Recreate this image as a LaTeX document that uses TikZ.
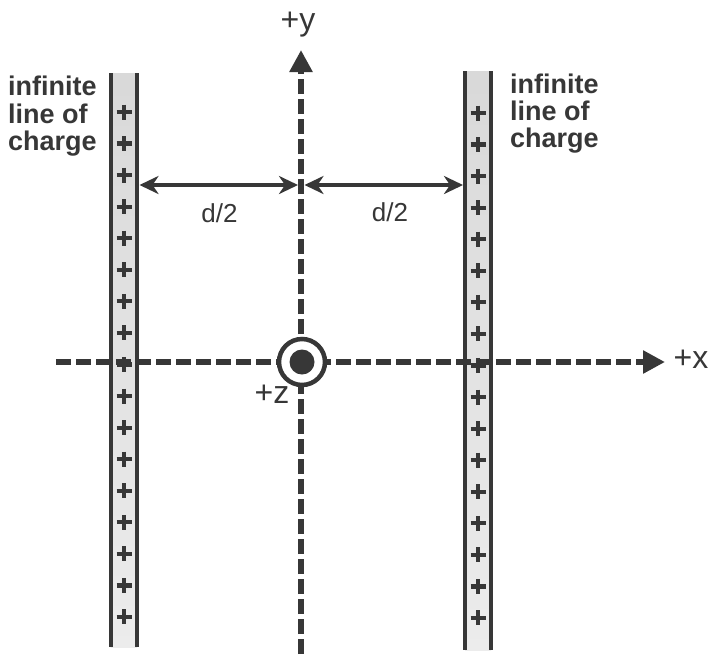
\documentclass[tikz,border=0pt]{standalone}
\usepackage{fontspec}
\setmainfont{Liberation Sans}
\usetikzlibrary{arrows.meta}
\definecolor{ink}{RGB}{55,55,55}
\begin{document}
\begin{tikzpicture}[x=1pt,y=-1pt,
  chargetext/.style={font=\fontsize{27}{29}\selectfont\bfseries, text=ink, inner sep=0pt, anchor=base west},
  axlabel/.style={font=\fontsize{32}{34}\selectfont, text=ink, inner sep=0pt, anchor=base},
  dlabel/.style={font=\fontsize{26}{28}\selectfont, text=ink, inner sep=0pt, anchor=base},
  axisline/.style={draw=ink, line width=5.5pt, dash pattern=on 15pt off 5pt, -{Triangle[length=22pt,width=22pt]}},
  wire/.style={draw=ink, line width=4pt},
  plussign/.style={draw=ink, line width=4.2pt},
  dist/.style={draw=ink, line width=4pt, {Stealth[length=19pt,width=18pt,inset=6pt]}-{Stealth[length=19pt,width=18pt,inset=6pt]}},
  shadefill/.style={top color=gray!30, middle color=gray!45, bottom color=gray!15}
]
\useasboundingbox[fill=white] (0,0) rectangle (711,654);

% charge columns
\shade[shadefill] (110.5,73) rectangle (137,647);
\shade[shadefill] (465,71) rectangle (491,650);

% axes
\coordinate (xs) at (56,362);
\coordinate (xe) at (665,362);
\coordinate (ys) at (301,654);
\coordinate (ye) at (301,50);
\draw[axisline] (xs) -- (xe);
\draw[axisline] (ys) -- (ye);

% wires
\coordinate (L1t) at (110.5,73); \coordinate (L1b) at (110.5,647);
\coordinate (L2t) at (137,73);   \coordinate (L2b) at (137,647);
\coordinate (R1t) at (465,71);   \coordinate (R1b) at (465,650);
\coordinate (R2t) at (491,71);   \coordinate (R2b) at (491,650);
\draw[wire] (L1t) -- (L1b);
\draw[wire] (L2t) -- (L2b);
\draw[wire] (R1t) -- (R1b);
\draw[wire] (R2t) -- (R2b);

% plus signs
\foreach \i in {0,...,16}{
  \pgfmathsetmacro{\yy}{112+31.56*\i}
  \draw[plussign] (116.5,\yy) -- (131.5,\yy) (124,\yy-7.5) -- (124,\yy+7.5);
  \pgfmathsetmacro{\yr}{113+31.56*\i}
  \draw[plussign] (470.5,\yr) -- (485.5,\yr) (478,\yr-7.5) -- (478,\yr+7.5);
}

% z axis symbol
\node[circle, draw=ink, line width=4.5pt, minimum size=46pt, inner sep=0pt, fill=white] (zring) at (302,362) {};
\node[circle, fill=ink, minimum size=25pt, inner sep=0pt] (zdot) at (302,362) {};

% distance arrows
\coordinate (dLa) at (139.5,185);
\coordinate (dLb) at (298,185);
\coordinate (dRa) at (304.5,185);
\coordinate (dRb) at (463,185);
\draw[dist] (dLa) -- (dLb);
\draw[dist] (dRa) -- (dRb);

% labels
\node[dlabel] (dl) at (219.5,222) {d/2};
\node[dlabel] (dr) at (390,221) {d/2};
\node[axlabel] (ylab) at (298,30) {+y};
\node[axlabel] (xlab) at (691,368) {+x};
\node[axlabel] (zlab) at (272,403) {+z};

\node[chargetext] (ll1) at (8,95) {infinite};
\node[chargetext] (ll2) at (8,123) {line of};
\node[chargetext] (ll3) at (8,150) {charge};
\node[chargetext] (rl1) at (510,93) {infinite};
\node[chargetext] (rl2) at (510,120) {line of};
\node[chargetext] (rl3) at (510,147) {charge};
\end{tikzpicture}
\end{document}
